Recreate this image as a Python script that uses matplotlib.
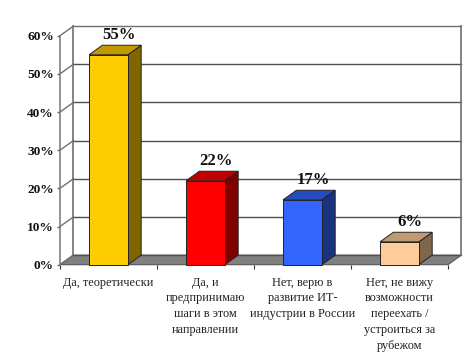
import matplotlib
matplotlib.use("Agg")
import matplotlib.pyplot as plt
from matplotlib.patches import Polygon

categories = ["Да, теоретически",
              "Да, и\nпредпринимаю\nшаги в этом\nнаправлении",
              "Нет, верю в\nразвитие ИТ-\nиндустрии в России",
              "Нет, не вижу\nвозможности\nпереехать /\nустроиться за\nрубежом"]
values = [55, 22, 17, 6]
front_colors = ["#FFCC00", "#FF0000", "#3366FF", "#FFCC99"]
side_colors = ["#806600", "#800000", "#1A3380", "#80664D"]
top_colors = ["#C09A00", "#C00000", "#264DBF", "#C09A73"]
yticks = [0, 10, 20, 30, 40, 50, 60]

W, H = 475, 355
dx = 0.137   # depth in category units
dy = 2.5     # depth in percent units
bw = 0.4

plt.rcParams['font.family'] = ['Liberation Serif', 'DejaVu Serif']

fig = plt.figure(figsize=(W/100, H/100), dpi=100)
ax = fig.add_axes([60/W, (H-264.7)/H, 388/W, 229/H])
ax.set_xlim(0, 4)
ax.set_ylim(0, 60)
for s in ['top', 'right', 'bottom']:
    ax.spines[s].set_visible(False)
ax.spines['left'].set_color("#808080")
ax.spines['left'].set_linewidth(1.2)

wall = "#707070"
# floor
ax.add_patch(Polygon([(0, 0), (4, 0), (4+dx, dy), (dx, dy)], closed=True,
                     facecolor="#808080", edgecolor="#555555", lw=0.8, clip_on=False, zorder=1))
# walls and gridlines
for v in yticks:
    ax.plot([0, dx], [v, v+dy], color=wall, lw=1, clip_on=False, zorder=1.5)
    ax.plot([dx, 4+dx], [v+dy, v+dy], color="#505050" if v < 60 else wall, lw=1, clip_on=False, zorder=1.5)
ax.plot([dx, dx], [dy, 60+dy], color=wall, lw=1.2, clip_on=False, zorder=1.5)
ax.plot([4+dx, 4+dx], [dy, 60+dy], color=wall, lw=1.2, clip_on=False, zorder=1.5)

# bars
pos = [i+0.5 for i in range(len(values))]
ax.bar(pos, values, width=bw, color=front_colors, edgecolor="#222222", linewidth=0.7, zorder=4, clip_on=False)
for x, v, sc, tc in zip(pos, values, side_colors, top_colors):
    x1 = x+bw/2
    x0 = x-bw/2
    ax.add_patch(Polygon([(x1, 0), (x1+dx, dy), (x1+dx, v+dy), (x1, v)], closed=True,
                         facecolor=sc, edgecolor="#222222", lw=0.7, clip_on=False, zorder=3))
    ax.add_patch(Polygon([(x0, v), (x1, v), (x1+dx, v+dy), (x0+dx, v+dy)], closed=True,
                         facecolor=tc, edgecolor="#222222", lw=0.7, clip_on=False, zorder=3))
    ax.text(x+0.11, v+dy+1.6, "%d%%" % v, ha='center', va='baseline', fontsize=12,
            fontweight='bold', color="#111111", zorder=6, clip_on=False)

ax.set_yticks(yticks)
ax.set_yticklabels(["%d%%" % v for v in yticks], fontsize=9.6, fontweight='bold', color="#111111")
ax.tick_params(axis='y', length=2.5, width=1, color="#606060", pad=2)

ax.set_xticks([0, 1, 2, 3, 4])
ax.set_xticklabels([])
ax.tick_params(axis='x', length=3, width=0.8, color="#333333")
for x, c in zip(pos, categories):
    ax.annotate(c, (x, 0), xytext=(0, -8.5), textcoords='offset points', ha='center', va='top',
                fontsize=8.8, color="#222222", linespacing=1.42, annotation_clip=False)

fig.savefig("out.png", dpi=100)
